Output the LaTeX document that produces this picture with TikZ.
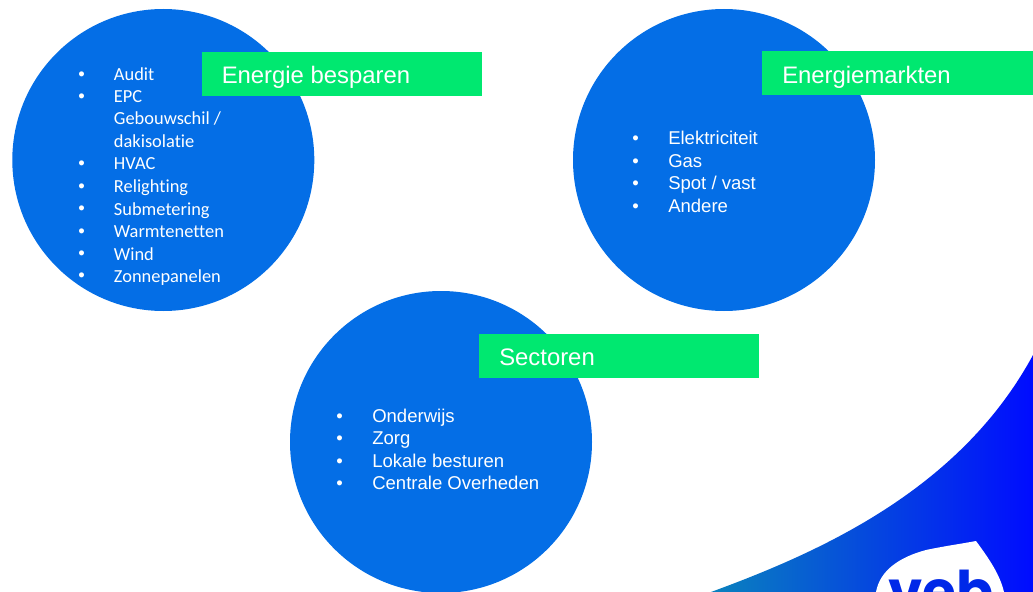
\documentclass[tikz,border=0pt]{standalone}
\usepackage{fontspec}
\setmainfont{Liberation Sans}
\newfontfamily\carl{Carlito}[Ligatures=NoCommon]
\newfontfamily\logo{Poppins}
\definecolor{disc}{HTML}{046EE6}
\definecolor{band}{HTML}{00E870}
\definecolor{swoopL}{HTML}{0A82BE}
\definecolor{swoopM}{HTML}{0040E0}
\definecolor{swoopR}{HTML}{000CFF}
\definecolor{logoblue}{HTML}{0028E8}
\tikzset{
  x=0.75pt,y=-0.75pt,
  disc/.style={circle,fill=disc,draw=none,inner sep=0,minimum size=226.5pt},
  band/.style={fill=band,draw=none,inner sep=0,anchor=north west},
  head/.style={anchor=base west,text=white,font=\fontsize{17.9pt}{20pt}\selectfont,inner sep=0},
  carlitem/.style={anchor=base west,text=white,font=\carl\fontsize{13.8pt}{14pt}\selectfont,inner sep=0},
  arialitem/.style={anchor=base west,text=white,font=\fontsize{13.9pt}{16pt}\selectfont,inner sep=0},
}
\begin{document}
\begin{tikzpicture}
\useasboundingbox (0,0) rectangle (1033,592);
\clip (0,0) rectangle (1033,592);
\node[disc] (c1) at (163.3,160) {};
\node[disc] (c2) at (724,160) {};
\node[disc] (c3) at (441,442) {};
\node[band,minimum width=210pt,minimum height=33pt] (b1) at (202,52) {};
\node[band,minimum width=204pt,minimum height=33pt] (b2) at (762,51) {};
\node[band,minimum width=210pt,minimum height=33pt] (b3) at (479,334) {};
\node[head] (h1) at (221.5,83.5) {Energie besparen};
\node[head] (h2) at (782,83.5) {Energiemarkten};
\node[head] (h3) at (499,365) {Sectoren};
% list 1
\foreach \y/\t [count=\i] in {81/{Audit},103/{EPC},125/{Gebouwschil /},147.5/{dakisolatie},170/{HVAC},192.5/{Relighting},215/{Submetering},237.5/{Warmtenetten},260/{Wind},282/{Zonnepanelen}}{
  \node[carlitem] (a\i) at (113.7,\y) {\t};
}
\foreach \y [count=\i] in {80.5,102.5,169.5,192.5,214.5,237.5,259.5,281.5}{
  \node[arialitem] (ab\i) at (78,\y) {•};
}
% list 2
\foreach \y/\t [count=\i] in {144.7/{Elektriciteit},167/{Gas},189.7/{Spot / vast},212/{Andere}}{
  \node[arialitem] (m\i) at (668,\y) {\t};
  \node[arialitem] (mb\i) at (632,\y) {•};
}
% list 3
\foreach \y/\t [count=\i] in {422/{Onderwijs},444/{Zorg},467/{Lokale besturen},489/{Centrale Overheden}}{
  \node[arialitem] (s\i) at (372,\y) {\t};
  \node[arialitem] (sb\i) at (336,\y) {•};
}
% corner swoosh
\shade[left color=swoopL,middle color=swoopM,right color=swoopR,draw=none]
  (711,592) .. controls (820,552) and (960,490) .. (1033,355) -- (1033,592) -- cycle;
\fill[white] (876,592) .. controls (880,570) and (900,557) .. (926,550)
  .. controls (945,546) and (960,544) .. (976,541)
  .. controls (990,560) and (1000,575) .. (1004,592) -- cycle;
\node[anchor=base,text=logoblue,inner sep=0,font=\logo\bfseries\fontsize{41pt}{50pt}\selectfont] (v) at (941,610.5) {veb};
\end{tikzpicture}
\end{document}
